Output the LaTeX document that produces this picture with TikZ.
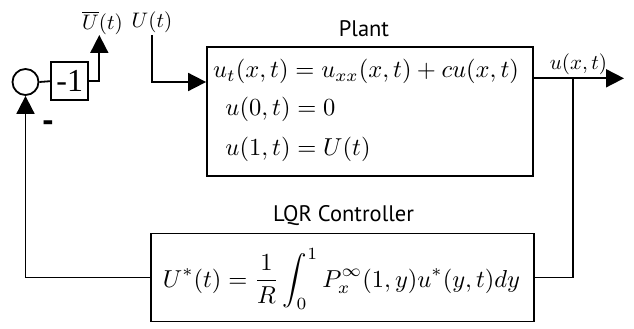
\documentclass[tikz,border=0pt]{standalone}
\usepackage{fontspec}
\setmainfont{Liberation Serif}
\setsansfont{PT Sans}
\usetikzlibrary{arrows.meta}
\tikzset{
  blk/.style={draw, line width=1.8pt, inner sep=0pt},
  lbl/.style={inner sep=0pt, scale=2.1},
  ttl/.style={inner sep=0pt, anchor=base, font=\sffamily\fontsize{22.5}{26}\selectfont},
  eqn/.style={inner sep=0pt, anchor=base west, scale=2.45},
  wire/.style={line width=1.8pt},
  arr/.style={wire, -{Triangle[length=18pt,width=18pt]}}
}
\begin{document}
\begin{tikzpicture}[x=1pt,y=-1pt]
\useasboundingbox (0,0) rectangle (634,329);
% blocks
\node[blk, circle, minimum size=26pt] (sum) at (25.5,82) {};
\node[blk, minimum width=37.3pt, minimum height=37.7pt,
      font=\fontsize{32}{36}\selectfont] (neg) at (69.7,81.2) {-1};
\node[blk, minimum width=326pt, minimum height=129pt] (plant) at (370,111.3) {};
\node[blk, minimum width=383pt, minimum height=88pt] (ctrl) at (342.5,277.5) {};
\node[inner sep=0pt, scale=2.45] (cform) at (341.5,279)
  {$\displaystyle U^*(t)=\frac{1}{R}\int_0^1 P_x^{\infty}(1,y)u^*(y,t)dy$};
% plant equations
\node[eqn] (e1) at (212.7,77.7) {$u_t(x,t) = u_{xx}(x,t) + cu(x,t)$};
\node[eqn] (e2) at (225,115.7) {$u(0,t) = 0$};
\node[eqn] (e3) at (225,155.7) {$u(1,t) = U(t)$};
% titles
\node[ttl] (tplant) at (364,36.7) {Plant};
\node[ttl] (tctrl) at (343.5,221.7) {LQR Controller};
% signal labels
\node[lbl, anchor=base] (lubar) at (102.5,30) {$\overline{U}(t)$};
\node[lbl, anchor=base] (lu) at (152,28) {$U(t)$};
\node[lbl, anchor=base] (lout) at (578.5,70) {$u(x,t)$};
\node[inner sep=0pt, font=\sffamily\bfseries\fontsize{34}{40}\selectfont] (minus) at (48,127) {-};
% coordinates
\coordinate (ubar) at (99.3,35);
\coordinate (uin) at (152.3,35);
\coordinate (outend) at (624,78.3);
\coordinate (jn) at (572.7,78.3);
% connectors
\draw[wire] (sum.east) -- (neg.west);
\draw[arr] (neg.east) -| (ubar);
\draw[arr] (uin) |- (plant.west |- sum.east);
\draw[arr] (plant.east |- outend) -- (outend);
\draw[wire] (jn) |- (ctrl.east);
\draw[arr] (ctrl.west) -| (sum.south);
\end{tikzpicture}
\end{document}
